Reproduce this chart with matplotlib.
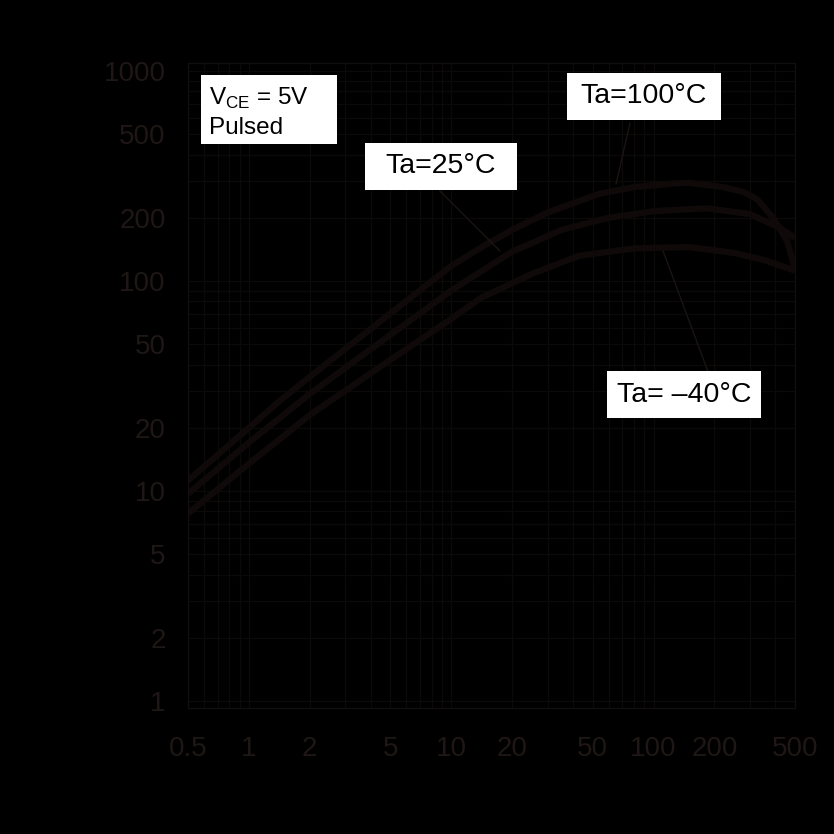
import matplotlib
matplotlib.use("Agg")
import matplotlib.pyplot as plt
from matplotlib.patches import Rectangle
from matplotlib.ticker import FixedLocator, FixedFormatter, LogLocator, NullFormatter

plt.rcParams['font.family'] = ['Liberation Sans', 'DejaVu Sans']
plt.rcParams['mathtext.fontset'] = 'custom'
plt.rcParams['mathtext.rm'] = 'Liberation Sans'

# hFE vs collector current (mA)
ic_100 = [0.5, 1, 1.43, 2, 5, 10, 15, 20, 30, 54, 80, 130, 151, 221, 280, 325, 390, 457, 500]
hfe_100 = [11.2, 20, 27, 35, 70, 118, 150, 175, 212, 260, 280, 292, 293, 280, 265, 245, 200, 155, 114]

ic_25 = [0.5, 1, 2, 4.45, 10, 20, 24.5, 35, 60, 100, 184, 300, 422, 500]
hfe_25 = [9.7, 17, 29, 51, 90, 138, 150, 175, 200, 215, 222, 208, 179, 160]

ic_m40 = [0.5, 1, 1.23, 2, 4.45, 10, 14, 25, 43, 80, 150, 250, 350, 450, 500]
hfe_m40 = [7.8, 13.5, 15.8, 23, 39, 66, 83, 108, 132, 143, 145, 136, 126, 116, 112]

x_ticks = [0.5, 1, 2, 5, 10, 20, 50, 100, 200, 500]
x_labels = ['0.5', '1', '2', '5', '10', '20', '50', '100', '200', '500']
y_ticks = [1, 2, 5, 10, 20, 50, 100, 200, 500, 1000]
y_labels = ['1', '2', '5', '10', '20', '50', '100', '200', '500', '1000']

curve_col = '#0f0a09'
grid_col = '#0c0909'
text_col = '#1e1715'

fig = plt.figure(figsize=(8.34, 8.34), dpi=100, facecolor='black')
ax = fig.add_axes([0.2254, 0.1511, 0.7278, 0.7734])
ax.set_facecolor('black')

for ic, hfe in [(ic_100, hfe_100), (ic_25, hfe_25), (ic_m40, hfe_m40)]:
    ax.plot(ic, hfe, color=curve_col, lw=4.5, solid_capstyle='butt',
            solid_joinstyle='round')

ax.set_xscale('log')
ax.set_yscale('log')
ax.set_xlim(0.5, 500)
ax.set_ylim(0.926, 1092)

ax.xaxis.set_major_locator(FixedLocator(x_ticks))
ax.xaxis.set_major_formatter(FixedFormatter(x_labels))
ax.yaxis.set_major_locator(FixedLocator(y_ticks))
ax.yaxis.set_major_formatter(FixedFormatter(y_labels))
ax.xaxis.set_minor_locator(LogLocator(base=10, subs=range(1, 10), numticks=20))
ax.yaxis.set_minor_locator(LogLocator(base=10, subs=range(1, 10), numticks=20))
ax.xaxis.set_minor_formatter(NullFormatter())
ax.yaxis.set_minor_formatter(NullFormatter())

ax.tick_params(which='both', length=0, labelsize=20, labelcolor=text_col)
ax.tick_params(axis='y', pad=16)
ax.tick_params(axis='x', pad=20)

ax.grid(True, which='both', color=grid_col, lw=1)
ax.set_axisbelow(True)
for sp in ax.spines.values():
    sp.set_color('#120e0e')
    sp.set_linewidth(1)

# leader lines from the labels to the curves
lead = dict(arrowstyle='-', color='#1a1413', lw=1, shrinkA=0, shrinkB=0)
ax.annotate('', xy=(65.3, 290), xytext=(76.5, 565), arrowprops=lead)
ax.annotate('', xy=(17.4, 139), xytext=(8.8, 268), arrowprops=lead)
ax.annotate('', xy=(111.4, 139), xytext=(186, 36.9), arrowprops=lead)

# white label boxes (axes fraction)
boxes = [(0.0214, 0.8744, 0.2241, 0.107),
         (0.6244, 0.9116, 0.2537, 0.0729),
         (0.2916, 0.8031, 0.2504, 0.0729),
         (0.6903, 0.4496, 0.2537, 0.0729)]
for x0, y0, w, h in boxes:
    ax.add_patch(Rectangle((x0, y0), w, h, transform=ax.transAxes,
                           fc='white', ec='none', zorder=4))

ax.text(0.0346, 0.9450, 'V$_{\\mathregular{CE}}$ = 5V', transform=ax.transAxes,
        fontsize=17.5, ha='left', va='center', color='black', zorder=5)
ax.text(0.0346, 0.8985, 'Pulsed', transform=ax.transAxes,
        fontsize=17.5, ha='left', va='center', color='black', zorder=5)
ax.text(0.7512, 0.9481, 'Ta=100°C', transform=ax.transAxes, fontsize=20.5,
        ha='center', va='center', color='black', zorder=5)
ax.text(0.4168, 0.8395, 'Ta=25°C', transform=ax.transAxes, fontsize=20.5,
        ha='center', va='center', color='black', zorder=5)
ax.text(0.8171, 0.4860, 'Ta= \u201340°C', transform=ax.transAxes, fontsize=20.5,
        ha='center', va='center', color='black', zorder=5)

fig.savefig('out.png', dpi=100, facecolor='black')
